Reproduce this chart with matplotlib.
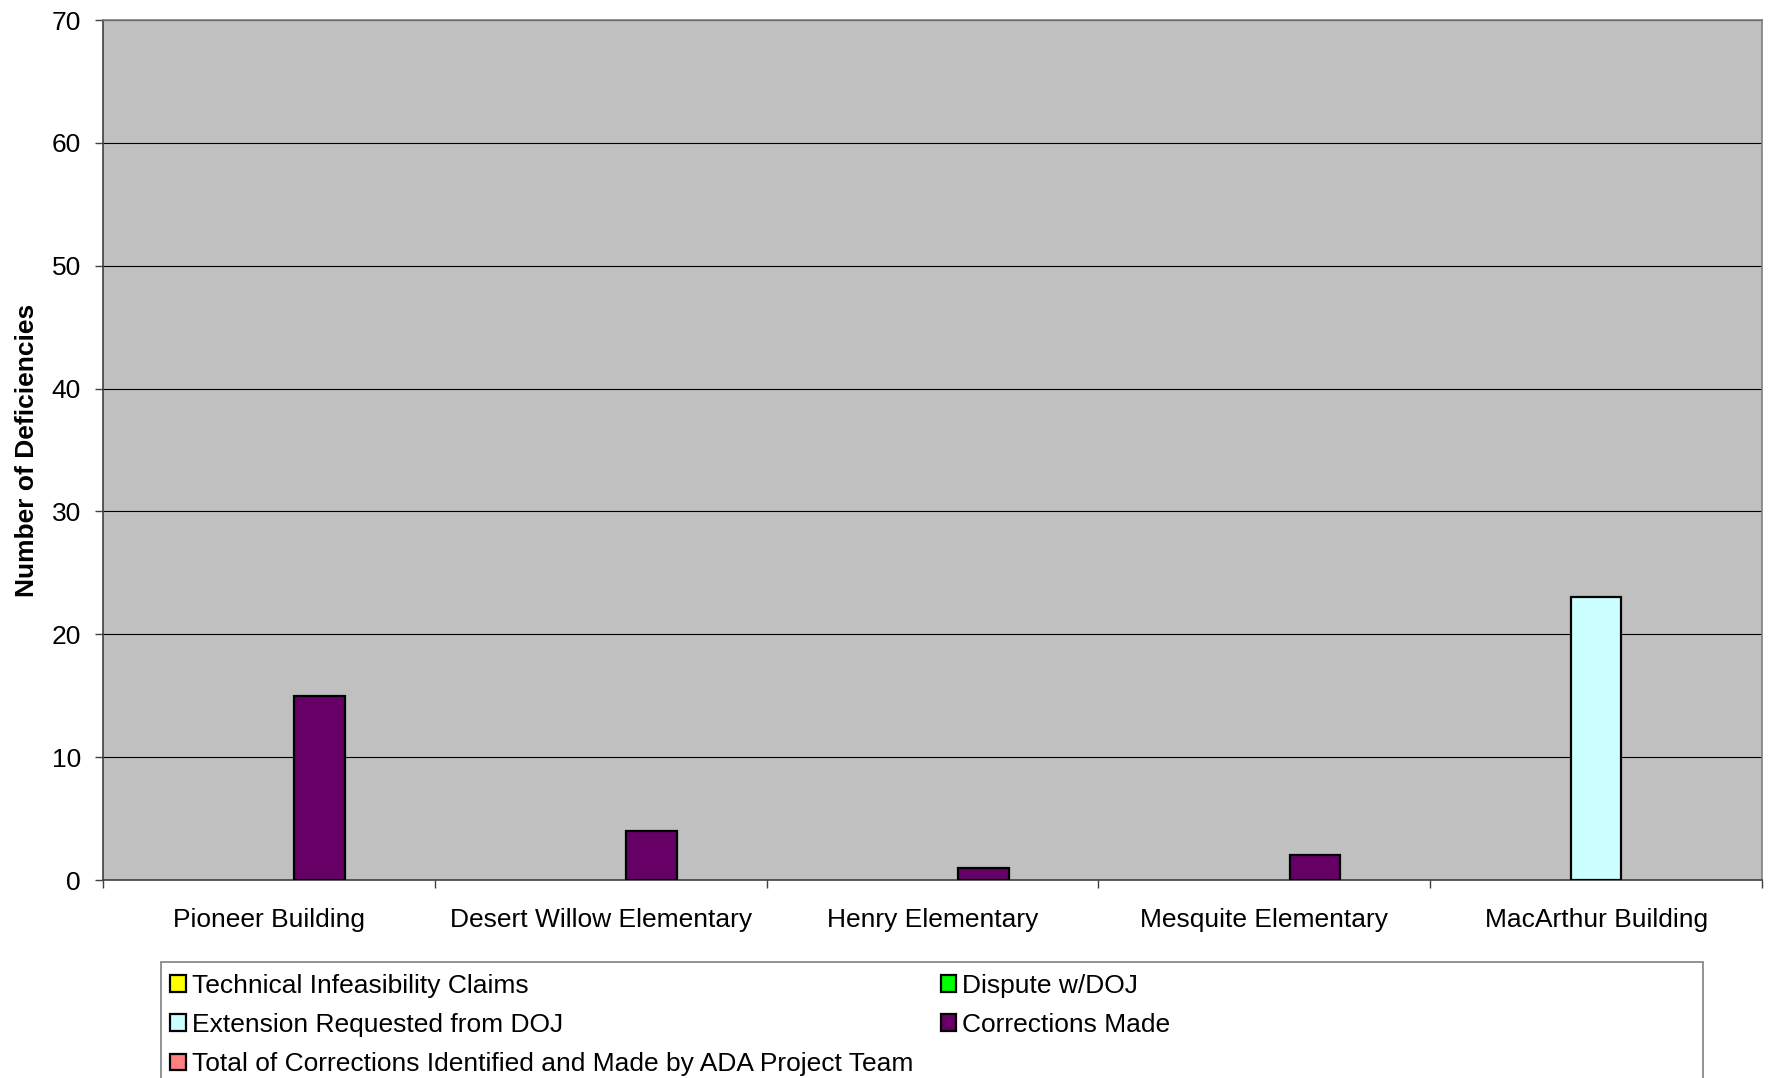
import matplotlib
matplotlib.use("Agg")
import matplotlib.pyplot as plt
from matplotlib.patches import Rectangle, Patch
import numpy as np

plt.rcParams['font.family'] = ['Liberation Sans', 'DejaVu Sans']

categories = ["Pioneer Building", "Desert Willow Elementary", "Henry Elementary",
              "Mesquite Elementary", "MacArthur Building"]
series_names = ["Technical Infeasibility Claims", "Dispute w/DOJ",
                "Extension Requested from DOJ", "Corrections Made",
                "Total of Corrections Identified and Made by ADA Project Team"]
technical = [0, 0, 0, 0, 0]
dispute = [0, 0, 0, 0, 0]
extension = [0, 0, 0, 0, 23]
corrections = [15, 4, 1, 2, 0]
total_team = [0, 0, 0, 0, 0]
y_ticks = [0, 10, 20, 30, 40, 50, 60, 70]

series_values = [technical, dispute, extension, corrections, total_team]
colors = ["#FFFF00", "#00FF00", "#CCFFFF", "#660066", "#FF8080"]

W, H = 1769, 1078
fig = plt.figure(figsize=(W / 100, H / 100), dpi=100)
ax = fig.add_axes([103 / W, 1 - 880 / H, (1762 - 103) / W, (880 - 20) / H])
ax.set_facecolor("#C0C0C0")

x = np.arange(len(categories))
bw = 0.153
for i, (vals, col) in enumerate(zip(series_values, colors)):
    bars = ax.bar(x + (i - 2) * bw, vals, width=bw, color=col,
                  edgecolor="black", linewidth=1.6, zorder=3)
    for p in bars:
        if p.get_height() == 0:
            p.set_visible(False)

ax.set_xlim(-0.5, len(categories) - 0.5)
ax.set_ylim(0, 70)
ax.set_yticks(y_ticks)
ax.yaxis.grid(True, color="black", linewidth=0.8, zorder=1)
ax.set_axisbelow(True)

ax.set_xticks(x)
ax.set_xticklabels(categories, fontsize=19)
ax.tick_params(axis="x", which="major", length=0, pad=20)
ax.set_xticks(np.arange(len(categories) + 1) - 0.5, minor=True)
ax.tick_params(axis="x", which="minor", length=6, width=1, color="#404040", direction="out")
ax.tick_params(axis="y", labelsize=19, length=6, width=1, color="#404040", pad=10)

for side in ("top", "right"):
    ax.spines[side].set_color("#808080")
    ax.spines[side].set_linewidth(1.2)
for side in ("left", "bottom"):
    ax.spines[side].set_color("#404040")
    ax.spines[side].set_linewidth(1.2)

fig.text(27 / W, 1 - 450 / H, "Number of Deficiencies", rotation=90,
         fontsize=19, fontweight="bold", ha="center", va="center")

# legend: row-major order across two columns
handles = [Patch(facecolor=c, edgecolor="black", linewidth=1.6) for c in colors]
order = [0, 2, 4, 1, 3]
leg = fig.legend([handles[k] for k in order], [series_names[k] for k in order],
                 loc="upper left", bbox_to_anchor=(158.5 / W, 1 - 962 / H),
                 ncol=2, fontsize=19, frameon=False, handlelength=0.6,
                 handleheight=0.6, handletextpad=0.22, columnspacing=1.04,
                 labelspacing=0.58, borderpad=0.44, borderaxespad=0)
fig.patches.append(Rectangle((161 / W, -0.02), (1703 - 161) / W, 0.02 + 1 - 962 / H,
                             transform=fig.transFigure, facecolor="white",
                             edgecolor="#808080", linewidth=1.2, zorder=0))

fig.savefig("out.png", dpi=100)
